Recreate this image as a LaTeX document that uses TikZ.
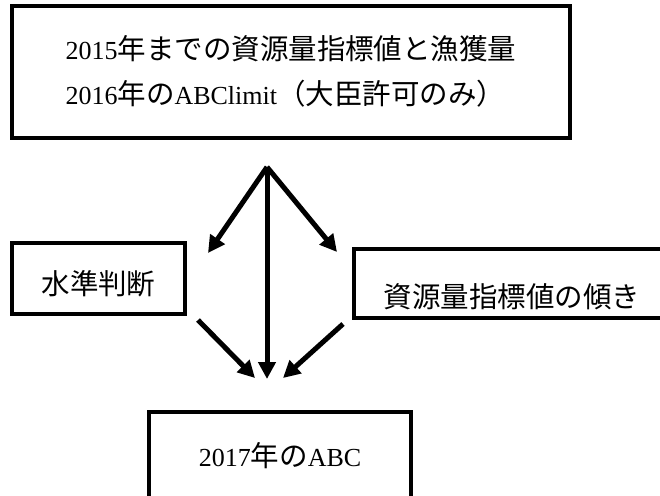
\documentclass[tikz,border=0pt]{standalone}
\usepackage{fontspec}
\setmainfont{Liberation Serif}
\newfontfamily\jafont[Scale=1.096]{Noto Sans CJK JP}
\usetikzlibrary{arrows.meta}

\begin{document}
\begin{tikzpicture}[x=1pt,y=-1pt,
  box/.style={draw, line width=4pt, fill=white, inner sep=0pt,
    font=\fontsize{26}{45}\selectfont},
  flowarrow/.style={line width=5pt, -{Triangle[length=17pt,width=17pt]}}]
%\draw [lightgray, ultra thin] (0,0) grid [step=20] (660,495);
\clip (0,0) rectangle (660,495);

\node [box, minimum width=558, minimum height=132, align=left] (data) at (291,72)
  {2015{\jafont 年までの資源量指標値と漁獲量}\\2016{\jafont 年の}ABClimit{\jafont （大臣許可のみ）}\\[-40pt]};

\node [box, minimum width=173, minimum height=71, text height=36pt, text depth=4pt] (level) at (98.5,278.5) {\jafont 水準判断};
\node [box, minimum width=316, minimum height=69, text height=52pt, text depth=4pt] (slope) at (512,283.5) {\jafont 資源量指標値の傾き};
\node [box, minimum width=262, minimum height=88] (abc) at (280,456) {2017{\jafont 年の}ABC};

\coordinate (fork) at (267,167);
\coordinate (levelin) at (208,253);
\coordinate (slopein) at (337,252);
\coordinate (levelout) at (198,320);
\coordinate (slopeout) at (343,324);
\coordinate (abcin) at (267,379);
\coordinate (abcleft) at (255,378);
\coordinate (abcright) at (283,378);

\draw [flowarrow] (fork) -- (levelin);
\draw [flowarrow] (fork) -- (slopein);
\draw [flowarrow] (fork) -- (abcin);
\draw [flowarrow] (levelout) -- (abcleft);
\draw [flowarrow] (slopeout) -- (abcright);
\end{tikzpicture}
\end{document}
